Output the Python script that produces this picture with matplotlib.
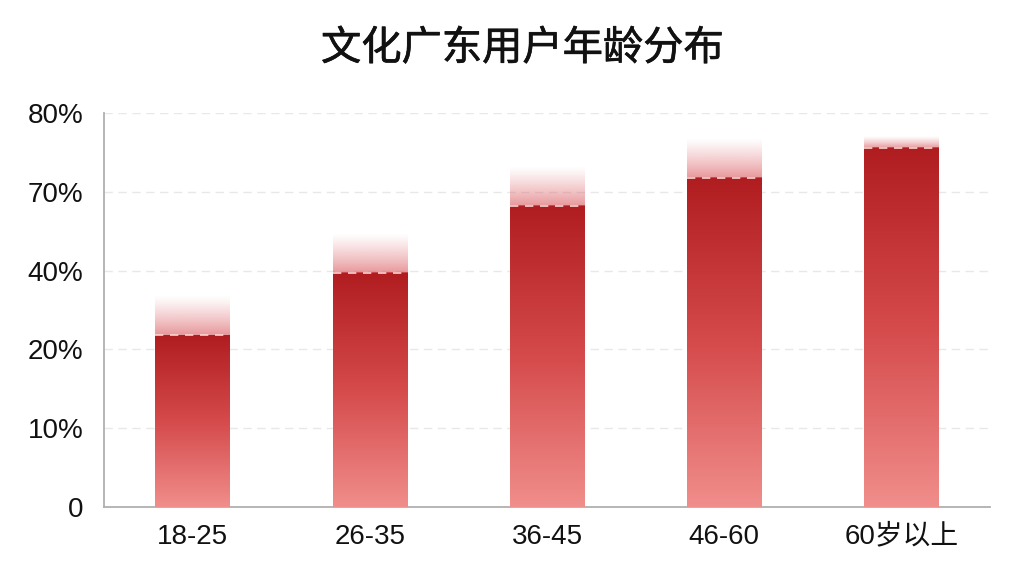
import numpy as np
import matplotlib
matplotlib.use("Agg")
from matplotlib import pyplot as plt
from matplotlib import patheffects
from matplotlib.colors import LinearSegmentedColormap

groups = ["18-25", "26-35", "36-45", "46-60", "60岁以上"]
# bar heights measured on the axis scale (one step per tick label)
heights = [2.18, 2.97, 3.82, 4.18, 4.56]
ytick_labels = ["0", "10%", "20%", "40%", "70%", "80%"]

plt.rcParams['font.family'] = ['Liberation Sans', 'Noto Sans CJK SC', 'DejaVu Sans']

fig = plt.figure(figsize=(10.24, 5.76), dpi=100)
ax = fig.add_axes([0.1016, 0.1198, 0.8652, 0.684])

x = np.arange(len(groups))
width = 0.42

bar_cmap = LinearSegmentedColormap.from_list("bar", ["#f08e8b", "#d54a4b", "#b01d20"])
grad = np.linspace(0, 1, 256).reshape(-1, 1)

glow = np.zeros((256, 1, 4))
glow[..., 0] = 0.86
glow[..., 1] = 0.38
glow[..., 2] = 0.40
glow[:, 0, 3] = np.linspace(0.7, 0.0, 256) ** 1.2

for xi, h in zip(x, heights):
    left, right = xi - width / 2, xi + width / 2
    ax.imshow(grad, cmap=bar_cmap, origin="lower", aspect="auto",
              extent=(left, right, 0, h), zorder=3)
    gtop = min(h + 0.5, 4.7)
    ax.imshow(glow, origin="lower", aspect="auto",
              extent=(left, right, h, gtop), zorder=3)
    ax.plot([left, right], [h, h], color="#f8d4d2", lw=1.2,
            linestyle=(0, (5, 4)), zorder=4)

ax.set_xlim(-0.5, len(groups) - 0.5)
ax.set_ylim(0, len(ytick_labels) - 1)
ax.set_xticks(x)
ax.set_xticklabels(groups)
ax.set_yticks(np.arange(len(ytick_labels)))
ax.set_yticklabels(ytick_labels)
ax.tick_params(axis="both", length=0, labelsize=20, colors="#111111")
ax.tick_params(axis="x", pad=12)
ax.tick_params(axis="y", pad=15)

ax.grid(axis="y", color="#e8e8e8", linestyle=(0, (6, 4)), lw=1, zorder=0)
ax.set_axisbelow(True)
for s in ["top", "right"]:
    ax.spines[s].set_visible(False)
for s in ["left", "bottom"]:
    ax.spines[s].set_color("#b0b0b0")
    ax.spines[s].set_linewidth(1.3)

title = fig.text(0.51, 0.916, "文化广东用户年龄分布", ha="center", va="center",
                 fontsize=29, color="#111111",
                 family=['Noto Sans CJK SC', 'DejaVu Sans'])
title.set_path_effects([patheffects.withStroke(linewidth=0.5, foreground="#111111")])

fig.savefig("out.png", dpi=100, facecolor="white")
